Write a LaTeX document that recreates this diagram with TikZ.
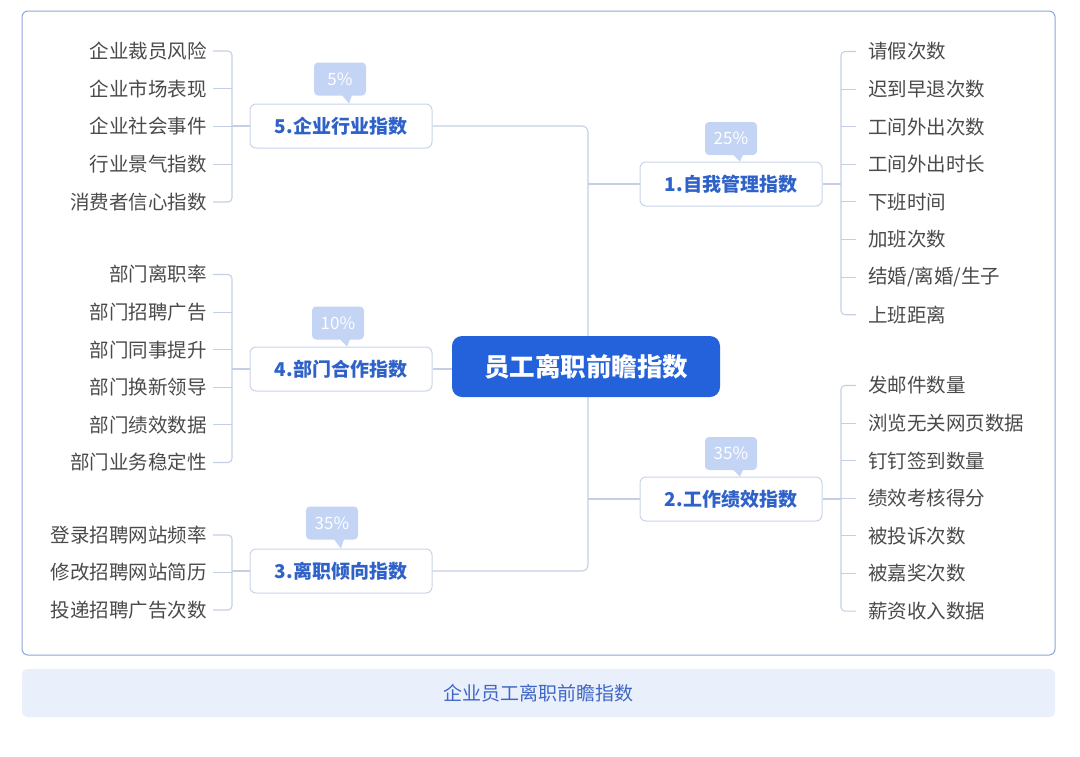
\documentclass[tikz,border=0pt]{standalone}
\usepackage{fontspec}
\setmainfont{Noto Sans CJK SC}
\definecolor{framec}{HTML}{8DA6DB}
\definecolor{connc}{HTML}{C5CFE3}
\definecolor{nodeb}{HTML}{C9D4EA}
\definecolor{nodet}{HTML}{2F62C9}
\definecolor{leaft}{HTML}{4A4A4A}
\definecolor{centerf}{HTML}{2462DC}
\definecolor{badgef}{HTML}{C3D4F4}
\definecolor{barf}{HTML}{E9EFFB}
\definecolor{bart}{HTML}{3F67C6}
\tikzset{
  conn/.style={draw=connc, line width=1.1pt},
  leafL/.style={anchor=east, inner sep=0pt, text=leaft, font=\fontsize{19.5}{20}\selectfont},
  leafR/.style={anchor=west, inner sep=0pt, text=leaft, font=\fontsize{19.5}{20}\selectfont},
  branch/.style={draw=nodeb, line width=1pt, fill=white, rounded corners=6pt, minimum width=182pt, minimum height=44pt, inner sep=0pt, text=nodet, font=\fontsize{19}{20}\selectfont\bfseries},
  badge/.style={fill=badgef, rounded corners=4pt, minimum width=52pt, minimum height=33pt, inner sep=0pt, text=white, font=\fontsize{17}{18}\selectfont},
}
\begin{document}
\begin{tikzpicture}[x=1pt,y=-1pt]
\useasboundingbox (0,0) rectangle (1080,756);
% frame and bar
\draw[draw=framec, line width=1pt, rounded corners=6pt] (22,11) rectangle (1055,655);
\node[fill=barf, rounded corners=5pt, minimum width=1033pt, minimum height=48pt, inner sep=0pt, text=bart, font=\fontsize{19}{20}\selectfont] (bar) at (538.5,693) {企业员工离职前瞻指数};

% branch nodes
\node[branch] (n5) at (341,126) {5.企业行业指数};
\node[branch] (n4) at (341,369) {4.部门合作指数};
\node[branch] (n3) at (341,571) {3.离职倾向指数};
\node[branch] (n1) at (731,184) {1.自我管理指数};
\node[branch] (n2) at (731,499) {2.工作绩效指数};

% trunk
\coordinate (trunk) at (588,0);
\draw[conn, rounded corners=6pt] (n5.east) -- (n5.east -| trunk) -- (n3.east -| trunk) -- (n3.east);
\draw[conn] (n1.west -| trunk) -- (n1.west);
\draw[conn] (n2.west -| trunk) -- (n2.west);

% center
\node[fill=centerf, rounded corners=10pt, minimum width=268pt, minimum height=61pt, inner sep=0pt, text=white, font=\fontsize{25.5}{26}\selectfont\bfseries] (c) at (586,366.5) {员工离职前瞻指数};
\draw[conn] (n4.east) -- (n4.east -| c.west);

% leaves of 5
\foreach \t [count=\i] in {企业裁员风险,企业市场表现,企业社会事件,行业景气指数,消费者信心指数}
  \node[leafL] (a\i) at (207,{51+37.75*(\i-1)}) {\t};
% leaves of 4
\foreach \t [count=\i] in {部门离职率,部门招聘广告,部门同事提升,部门换新领导,部门绩效数据,部门业务稳定性}
  \node[leafL] (d\i) at (207,{274.5+37.6*(\i-1)}) {\t};
% leaves of 3
\foreach \t [count=\i] in {登录招聘网站频率,修改招聘网站简历,投递招聘广告次数}
  \node[leafL] (e\i) at (207,{535+37.5*(\i-1)}) {\t};
% leaves of 1
\foreach \t [count=\i] in {请假次数,迟到早退次数,工间外出次数,工间外出时长,下班时间,加班次数,结婚/离婚/生子,上班距离}
  \node[leafR] (r\i) at (868,{51.5+37.6*(\i-1)}) {\t};
% leaves of 2
\foreach \t [count=\i] in {发邮件数量,浏览无关网页数据,钉钉签到数量,绩效考核得分,被投诉次数,被嘉奖次数,薪资收入数据}
  \node[leafR] (s\i) at (868,{385.5+37.6*(\i-1)}) {\t};

% brackets left
\coordinate (bl) at (232,0);
\coordinate (br) at (841,0);
\draw[conn, rounded corners=4pt] ([xshift=6pt]a1.east) -- (a1.east -| bl) -- (a5.east -| bl) -- ([xshift=6pt]a5.east);
\foreach \i in {2,3,4} \draw[conn] ([xshift=6pt]a\i.east) -- (a\i.east -| bl);
\draw[conn] (n5.west) -- (n5.west -| bl);

\draw[conn, rounded corners=4pt] ([xshift=6pt]d1.east) -- (d1.east -| bl) -- (d6.east -| bl) -- ([xshift=6pt]d6.east);
\foreach \i in {2,3,4,5} \draw[conn] ([xshift=6pt]d\i.east) -- (d\i.east -| bl);
\draw[conn] (n4.west) -- (n4.west -| bl);

\draw[conn, rounded corners=4pt] ([xshift=6pt]e1.east) -- (e1.east -| bl) -- (e3.east -| bl) -- ([xshift=6pt]e3.east);
\draw[conn] ([xshift=6pt]e2.east) -- (e2.east -| bl);
\draw[conn] (n3.west) -- (n3.west -| bl);

% brackets right
\draw[conn, rounded corners=4pt] ([xshift=-12pt]r1.west) -- (r1.west -| br) -- (r8.west -| br) -- ([xshift=-12pt]r8.west);
\foreach \i in {2,...,7} \draw[conn] ([xshift=-12pt]r\i.west) -- (r\i.west -| br);
\draw[conn] (n1.east) -- (n1.east -| br);

\draw[conn, rounded corners=4pt] ([xshift=-12pt]s1.west) -- (s1.west -| br) -- (s7.west -| br) -- ([xshift=-12pt]s7.west);
\foreach \i in {2,...,6} \draw[conn] ([xshift=-12pt]s\i.west) -- (s\i.west -| br);
\draw[conn] (n2.east) -- (n2.east -| br);

% badges
\node[badge] (b5) at (340,79) {5\%};
\node[badge] (b4) at (338,323) {10\%};
\node[badge] (b3) at (332,523) {35\%};
\node[badge] (b1) at (731,138.5) {25\%};
\node[badge] (b2) at (731,453.5) {35\%};
\foreach \b/\n in {b5/n5,b4/n4,b3/n3,b1/n1,b2/n2}
  \fill[badgef] ([xshift=2pt,yshift=0.5pt]\b.south) -- ([xshift=12pt,yshift=0.5pt]\b.south) -- ([xshift=9pt]\b.south |- \n.north) -- cycle;
\end{tikzpicture}
\end{document}
